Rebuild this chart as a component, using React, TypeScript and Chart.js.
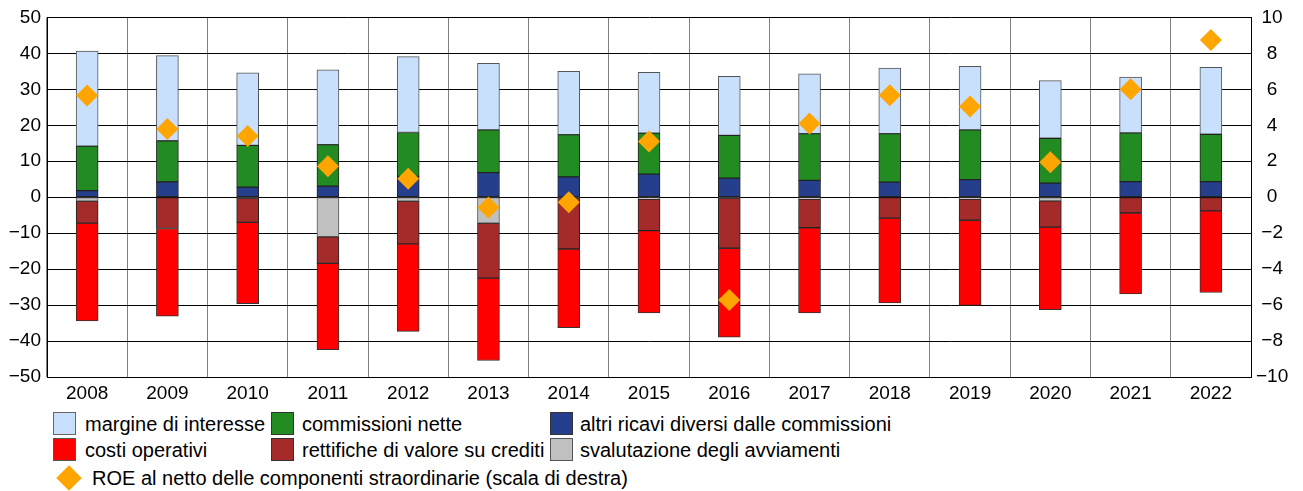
import React, { useEffect, useRef } from "react";
import { Chart, registerables } from "chart.js";

Chart.register(...registerables);

const years = ["2008", "2009", "2010", "2011", "2012", "2013", "2014", "2015", "2016", "2017", "2018", "2019", "2020", "2021", "2022"];
const altriRicavi = [1.85, 4.26, 2.8, 3.1, 5.8, 6.85, 5.65, 6.4, 5.3, 4.7, 4.2, 4.9, 3.9, 4.35, 4.35];
const commissioni = [12.35, 11.44, 11.6, 11.5, 12.2, 11.85, 11.75, 11.4, 11.9, 13.0, 13.5, 13.8, 12.5, 13.55, 13.15];
const margine = [26.4, 23.65, 20.2, 20.8, 21.1, 18.5, 17.6, 16.9, 16.4, 16.6, 18.2, 17.7, 16.0, 15.5, 18.6];
const svalutazione = [-1.1, 0, -0.3, -11.0, -1.1, -7.2, -0.3, -0.5, -0.3, -0.5, 0, -0.5, -1.0, 0, 0];
const rettifiche = [-6.1, -8.7, -6.7, -7.4, -11.9, -15.3, -14.1, -8.8, -13.9, -8.0, -5.8, -5.9, -7.3, -4.4, -3.8];
const costi = [-27.2, -24.4, -22.6, -24.0, -24.3, -22.9, -21.9, -22.9, -24.7, -23.7, -23.6, -23.7, -23.0, -22.5, -22.7];
const roe = [5.65, 3.8, 3.4, 1.72, 1.02, -0.57, -0.28, 3.1, -5.72, 4.1, 5.67, 5.04, 1.94, 6.0, 8.74];

const FONT = "'Liberation Sans', Arial, sans-serif";
const C_MARG = "#c9e0fd";
const C_COMM = "#228b22";
const C_ALTRI = "#263f8c";
const C_COSTI = "#ff0000";
const C_RETT = "#a52a2a";
const C_SVAL = "#c0c0c0";
const C_ROE = "#ffa500";

const nz = (a: number[]) => a.map((v) => (v === 0 ? null : v));
const fmt = (v: any) => String(v).replace("-", "\u2212");

function bar(label: string, data: number[], color: string, border: string) {
  return {
    type: "bar" as const,
    label,
    data: nz(data),
    backgroundColor: color,
    borderColor: border,
    borderWidth: 1,
    borderSkipped: false,
    barThickness: 22,
    stack: "s",
    yAxisID: "y",
    order: 1,
  };
}

const legendRows: { label: string; color: string; border: string; x: number; tx: number; y: number }[] = [
  { label: "margine di interesse", color: C_MARG, border: "#666", x: 53, tx: 85, y: 412 },
  { label: "commissioni nette", color: C_COMM, border: "#333", x: 271, tx: 302, y: 412 },
  { label: "altri ricavi diversi dalle commissioni", color: C_ALTRI, border: "#333", x: 550, tx: 580, y: 412 },
  { label: "costi operativi", color: C_COSTI, border: "#555", x: 53, tx: 85, y: 438 },
  { label: "rettifiche di valore su crediti", color: C_RETT, border: "#333", x: 271, tx: 302, y: 438 },
  { label: "svalutazione degli avviamenti", color: C_SVAL, border: "#555", x: 550, tx: 580, y: 438 },
];

export default function App() {
  const ref = useRef<HTMLCanvasElement>(null);
  useEffect(() => {
    if (!ref.current) return;
    const chart = new Chart(ref.current, {
      type: "bar",
      data: {
        labels: years,
        datasets: [
          bar("altri ricavi diversi dalle commissioni", altriRicavi, C_ALTRI, "#222"),
          bar("commissioni nette", commissioni, C_COMM, "#222"),
          bar("margine di interesse", margine, C_MARG, "#555"),
          bar("svalutazione degli avviamenti", svalutazione, C_SVAL, "#555"),
          bar("rettifiche di valore su crediti", rettifiche, C_RETT, "#222"),
          bar("costi operativi", costi, C_COSTI, "#333"),
          {
            type: "line" as const,
            label: "ROE al netto delle componenti straordinarie (scala di destra)",
            data: roe,
            yAxisID: "y1",
            showLine: false,
            pointStyle: "rectRot",
            pointRadius: 11,
            pointHoverRadius: 11,
            pointBackgroundColor: C_ROE,
            pointBorderColor: C_ROE,
            pointBorderWidth: 0,
            backgroundColor: C_ROE,
            borderColor: C_ROE,
            order: 0,
          } as any,
        ],
      },
      options: {
        responsive: false,
        animation: false,
        layout: { padding: { top: 17, bottom: 0, left: 0, right: 0 } },
        plugins: { legend: { display: false }, tooltip: { enabled: false } },
        scales: {
          x: {
            stacked: true,
            offset: true,
            grid: { color: "#808080", lineWidth: 1, drawTicks: false, offset: true },
            border: { color: "#000", width: 1 },
            ticks: { color: "#000", font: { family: FONT, size: 19 }, padding: 5, maxRotation: 0 },
            afterFit: (s: any) => {
              s.height = 23;
            },
          },
          y: {
            stacked: true,
            position: "left",
            min: -50,
            max: 50,
            grid: { color: "#000", lineWidth: 1, drawTicks: false },
            border: { color: "#000", width: 1 },
            ticks: { stepSize: 10, color: "#000", font: { family: FONT, size: 19 }, padding: 6, callback: fmt },
            afterFit: (s: any) => {
              s.width = 47;
            },
          },
          y1: {
            position: "right",
            min: -10,
            max: 10,
            grid: { display: false, drawTicks: false },
            border: { color: "#000", width: 1 },
            ticks: {
              stepSize: 2,
              color: "#000",
              font: { family: FONT, size: 19 },
              padding: 5,
              crossAlign: "center",
              callback: fmt,
            },
            afterFit: (s: any) => {
              s.width = 52;
            },
          },
        },
      } as any,
    });
    return () => chart.destroy();
  }, []);

  return (
    <div style={{ position: "absolute", left: 0, top: 0, width: 1303, height: 491, background: "#fff", fontFamily: FONT }}>
      <canvas ref={ref} width={1303} height={400} style={{ position: "absolute", left: 0, top: 0, width: 1303, height: 400 }} />
      {legendRows.map((r) => (
        <React.Fragment key={r.label}>
          <div
            style={{
              position: "absolute",
              left: r.x,
              top: r.y,
              width: 21,
              height: 21,
              background: r.color,
              border: `1px solid ${r.border}`,
            }}
          />
          <div
            style={{
              position: "absolute",
              left: r.tx,
              top: r.y + 1,
              height: 23,
              lineHeight: "23px",
              fontSize: 20,
              color: "#000",
              whiteSpace: "nowrap",
            }}
          >
            {r.label}
          </div>
        </React.Fragment>
      ))}
      <div
        style={{
          position: "absolute",
          left: 69 - 9,
          top: 478 - 9,
          width: 18,
          height: 18,
          background: C_ROE,
          transform: "rotate(45deg)",
        }}
      />
      <div
        style={{
          position: "absolute",
          left: 92,
          top: 467,
          height: 23,
          lineHeight: "23px",
          fontSize: 20,
          color: "#000",
          whiteSpace: "nowrap",
        }}
      >
        ROE al netto delle componenti straordinarie (scala di destra)
      </div>
    </div>
  );
}
